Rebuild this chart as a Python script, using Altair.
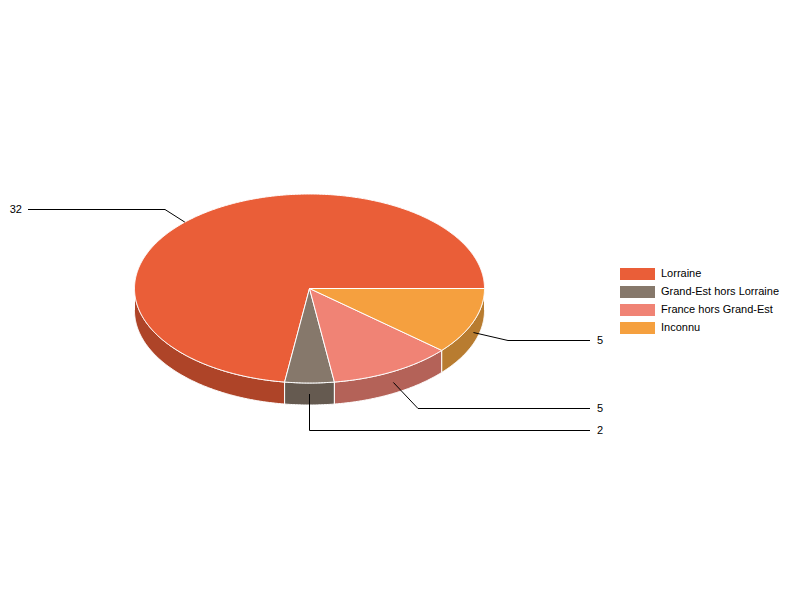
import math
import altair as alt
import pandas as pd

categories = ["Lorraine", "Grand-Est hors Lorraine", "France hors Grand-Est", "Inconnu"]
values = [32, 2, 5, 5]
colors = ["#EA5E38", "#86786B", "#F08375", "#F5A03F"]
wall_colors = ["#AE4428", "#655A50", "#B46258", "#B87C30"]

# pie geometry, in page pixels
CX, CY, RX, RY, DEPTH = 309.5, 288.5, 175.0, 94.5, 22.0
total = sum(values)

# slices run clockwise from the east, in reverse legend order
spans = {}
a = 0.0
for i in reversed(range(len(values))):
    b = a + values[i] / total * 360.0
    spans[i] = (a, b)
    a = b


def pt(deg, dy=0.0):
    t = math.radians(deg)
    return CX + RX * math.cos(t), CY + RY * math.sin(t) + dy


def arc(a0, a1, dy=0.0):
    n = max(2, int(abs(a1 - a0) * 2))
    return [pt(a0 + (a1 - a0) * j / n, dy) for j in range(n + 1)]


tops, walls = [], {}
for i, cat in enumerate(categories):
    a0, a1 = spans[i]
    for j, (x, y) in enumerate([(CX, CY)] + arc(a0, a1)):
        tops.append(dict(cat=cat, x=x, y=y, o=j))
    w0, w1 = a0, min(a1, 180.0)
    if w0 < w1:
        poly = arc(w0, w1) + arc(w1, w0, DEPTH)
        walls[i] = [dict(x=x, y=y, o=j) for j, (x, y) in enumerate(poly)]

# (anchor angle shift, elbow, line end, label anchor, align, drop) of each call-out
callouts = {
    0: (-4.5, (165, 209.5), (28, 209.5), (22, 209.5), "right", 0.0),
    1: (0.0, (309.5, 430.5), (590, 430.5), (597, 430.5), "left", DEPTH / 2),
    2: (0.0, (418, 408.5), (590, 408.5), (597, 408.5), "left", DEPTH / 2),
    3: (0.0, (508, 340.5), (590, 340.5), (597, 340.5), "left", DEPTH / 2),
}
lines, labels = [], []
for i, (shift, elbow, end, lab, al, dy) in callouts.items():
    mid = sum(spans[i]) / 2 + shift
    for j, (x, y) in enumerate([pt(mid, dy), elbow, end]):
        lines.append(dict(cat=categories[i], x=x, y=y, o=j))
    labels.append(dict(v=str(values[i]), x=lab[0], y=lab[1], al=al))

X = alt.X("x:Q", scale=alt.Scale(domain=[8, 792], nice=False, zero=False), axis=None)
Y = alt.Y("y:Q", scale=alt.Scale(domain=[592, 8], nice=False, zero=False), axis=None)

wall_layers = [
    alt.Chart(pd.DataFrame(rows)).mark_line(
        interpolate="linear-closed", stroke="white", strokeWidth=1, fill=wall_colors[i]
    ).encode(x=X, y=Y, order="o:Q")
    for i, rows in walls.items()
]

top = alt.Chart(pd.DataFrame(tops)).mark_line(
    interpolate="linear-closed", stroke="white", strokeWidth=1
).encode(
    x=X, y=Y, order="o:Q",
    fill=alt.Fill(
        "cat:N",
        sort=categories,
        scale=alt.Scale(domain=categories, range=colors),
        legend=alt.Legend(
            title=None, orient="none", legendX=612, legendY=257,
            symbolType="M-1,-0.34H1V0.34H-1Z", symbolSize=1225,
            symbolStrokeWidth=0, symbolOpacity=1, symbolFillColor="transparent",
            labelFont="Liberation Sans", labelFontSize=11, labelColor="#000",
            labelOffset=6, rowPadding=0, clipHeight=18, labelLimit=200,
        ),
    ),
)

leader = alt.Chart(pd.DataFrame(lines)).mark_line(
    color="black", strokeWidth=1
).encode(x=X, y=Y, order="o:Q", detail="cat:N")

left = alt.Chart(pd.DataFrame([l for l in labels if l["al"] == "right"])).mark_text(
    font="Liberation Sans", fontSize=11, color="black", baseline="middle", align="right"
).encode(x=X, y=Y, text="v:N")
right = alt.Chart(pd.DataFrame([l for l in labels if l["al"] == "left"])).mark_text(
    font="Liberation Sans", fontSize=11, color="black", baseline="middle", align="left"
).encode(x=X, y=Y, text="v:N")

chart = alt.layer(*wall_layers, top, leader, left, right).properties(
    width=784, height=584, padding=0, autosize=alt.AutoSizeParams(type="none")
).configure_view(stroke=None)

chart.save("out.html", embed_options={"renderer": "svg", "actions": False})
